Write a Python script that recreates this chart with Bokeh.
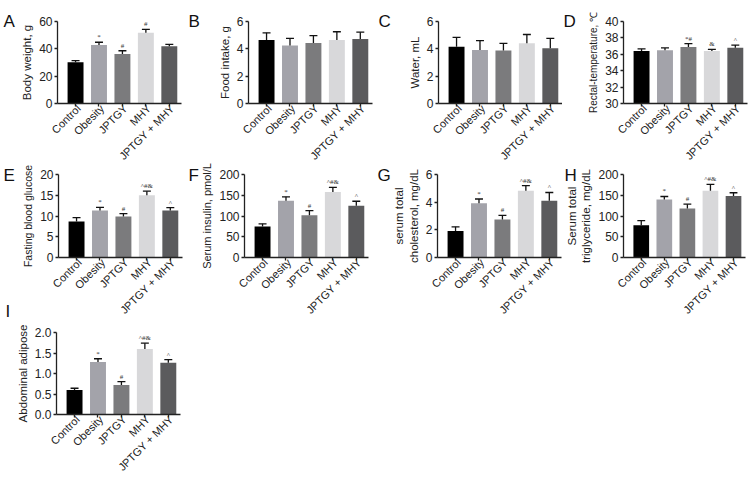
import math
from bokeh.plotting import figure
from bokeh.models import (Range1d, FixedTicker, LabelSet, ColumnDataSource,
                          NumeralTickFormatter, CustomJSTickFormatter)
from bokeh.core.properties import value
from bokeh.layouts import column, row
from bokeh.embed import file_html
from bokeh.resources import INLINE

# ---------------- data ----------------
groups = ["Control", "Obesity", "JPTGY", "MHY", "JPTGY + MHY"]
bar_colors = ["#000000", "#a3a3aa", "#7b7b7d", "#d8d8da", "#5b5b5d"]

body_weight = [30.1, 42.8, 36.2, 51.8, 41.8]
body_weight_err = [1.2, 2.0, 2.4, 2.4, 1.4]
body_weight_sig = ["", "*", "#", "#", ""]

food_intake = [4.65, 4.24, 4.43, 4.65, 4.72]
food_intake_err = [0.52, 0.53, 0.53, 0.6, 0.5]
food_intake_sig = ["", "", "", "", ""]

water = [4.16, 3.92, 3.87, 4.4, 4.04]
water_err = [0.68, 0.68, 0.53, 0.65, 0.73]
water_sig = ["", "", "", "", ""]

rectal_temp = [36.4, 36.5, 36.9, 36.4, 36.8]
rectal_temp_err = [0.25, 0.28, 0.4, 0.2, 0.33]
rectal_temp_sig = ["", "", "*#", "&", "^"]

glucose = [8.7, 11.3, 9.9, 15.0, 11.3]
glucose_err = [0.9, 0.8, 0.65, 0.97, 0.7]
glucose_sig = ["", "*", "#", "^#&", "^"]

insulin = [74.7, 136.5, 102.0, 158.0, 124.5]
insulin_err = [6.4, 9.6, 11.0, 11.0, 11.0]
insulin_sig = ["", "*", "#", "^#&", "^"]

cholesterol = [1.92, 3.93, 2.74, 4.83, 4.1]
cholesterol_err = [0.3, 0.3, 0.3, 0.36, 0.6]
cholesterol_sig = ["", "*", "#", "^#&", "^"]

triglyceride = [78.0, 140.0, 118.0, 161.0, 148.0]
triglyceride_err = [11.0, 7.0, 10.5, 15.0, 8.0]
triglyceride_sig = ["", "*", "#", "^#&", "^"]

adipose = [0.6, 1.28, 0.72, 1.6, 1.26]
adipose_err = [0.04, 0.08, 0.08, 0.14, 0.08]
adipose_sig = ["", "*", "#", "^#&", "^"]

FONT = "Liberation Sans"
TXT = "#222222"
X0, X1 = -0.77, 4.52


def add_letter(p, letter, x, y, dx, dy):
    p.text(x=[x], y=[y], text=[letter], x_offset=dx, y_offset=dy,
           text_font_size="17px", text_color="#111111", text_font=value(FONT),
           text_align="left", text_baseline="alphabetic", level="overlay")


def make_panel(letter, vals, errs, sigs, ylabel, y0, y1, yticks, W, H, bl, br, bt, bb,
               letter_dx, letter_dy=0, label_size="11.5px", fmt=None):
    p = figure(width=W, height=H, output_backend="svg", toolbar_location=None,
               x_range=Range1d(X0, X1), y_range=Range1d(y0, y1),
               min_border_left=bl, min_border_right=br, min_border_top=bt,
               min_border_bottom=bb)
    p.outline_line_color = None
    p.xgrid.grid_line_color = None
    p.ygrid.grid_line_color = None
    p.background_fill_color = "white"

    xs = list(range(len(groups)))
    src = ColumnDataSource(dict(
        x=xs, top=vals, err_top=[v + e for v, e in zip(vals, errs)],
        cl=[x - 0.17 for x in xs], cr=[x + 0.17 for x in xs],
        color=bar_colors, sig=sigs, name=groups, base=[y0] * len(xs)))

    p.vbar(x="x", top="top", bottom=y0, width=0.68, fill_color="color",
           line_color=None, source=src)
    p.segment(x0="x", y0="top", x1="x", y1="err_top", line_color="#111111",
              line_width=1.3, source=src)
    p.segment(x0="cl", y0="err_top", x1="cr", y1="err_top", line_color="#111111",
              line_width=1.3, source=src)

    # significance marks
    p.add_layout(LabelSet(x="x", y="err_top", text="sig", source=src, y_offset=1,
                          text_align="center", text_baseline="bottom",
                          text_font_size="7px", text_color="#333333",
                          text_font=FONT))
    # category labels (rotated), drawn at overlay level so they may leave the frame
    p.text(x="x", y="base", text="name", source=src, x_offset=3, y_offset=3,
           angle=math.pi / 4, text_align="right", text_baseline="middle",
           text_font_size="11px", text_color=TXT, text_font=value(FONT),
           level="overlay")
    if letter:
        add_letter(p, letter, X0, y1, letter_dx, letter_dy)

    xa = p.xaxis[0]
    ya = p.yaxis[0]
    xa.ticker = FixedTicker(ticks=xs)
    xa.formatter = CustomJSTickFormatter(code="return ''")
    ya.ticker = FixedTicker(ticks=yticks)
    if fmt:
        ya.formatter = NumeralTickFormatter(format=fmt)
    for ax in (xa, ya):
        ax.axis_line_width = 1.3
        ax.axis_line_color = TXT
        ax.major_tick_line_width = 1.3
        ax.major_tick_line_color = TXT
        ax.major_tick_out = 3
        ax.major_tick_in = 0
        ax.minor_tick_out = 0
        ax.minor_tick_in = 0
        ax.major_label_text_font = FONT
        ax.major_label_text_color = TXT
        ax.major_label_text_font_size = "12px"
    xa.major_label_standoff = 0
    ya.major_label_standoff = 2
    ya.axis_label = ylabel
    ya.axis_label_text_font = FONT
    ya.axis_label_text_font_style = "normal"
    ya.axis_label_text_font_size = label_size
    ya.axis_label_text_color = TXT
    ya.axis_label_standoff = 3
    return p


# row 1
R1 = dict(H=162, bt=21, bb=59)
pA = make_panel("A", body_weight, body_weight_err, body_weight_sig, "Body weight, g",
                0, 60, [0, 20, 40, 60], W=185, bl=57, br=4, letter_dx=-54, **R1)
pB = make_panel("B", food_intake, food_intake_err, food_intake_sig, "Food intake, g",
                0, 6, [0, 2, 4, 6], W=190, bl=63, br=3, letter_dx=-60, **R1)
pC = make_panel("C", water, water_err, water_sig, "Water, mL",
                0, 6, [0, 2, 4, 6], W=187, bl=63, br=0, letter_dx=-60, **R1)
pD = make_panel("D", rectal_temp, rectal_temp_err, rectal_temp_sig, "Rectal-temperature, \u2103",
                30, 40, [30, 32, 34, 36, 38, 40], W=186, bl=61, br=1, letter_dx=-60,
                label_size="10px", **R1)

# row 2
R2 = dict(H=158, bt=12, bb=63)
pE = make_panel("E", glucose, glucose_err, glucose_sig, "Fasting blood glucose",
                0, 20, [0, 5, 10, 15, 20], W=185, bl=58, br=3, letter_dx=-55,
                letter_dy=1, label_size="10.5px", **R2)
pF = make_panel("F", insulin, insulin_err, insulin_sig, "Serum insulin, pmol/L",
                0, 200, [0, 50, 100, 150, 200], W=190, bl=59, br=7, letter_dx=-56,
                letter_dy=1, label_size="11px", **R2)
pG = make_panel("G", cholesterol, cholesterol_err, cholesterol_sig,
                "serum total\ncholesterol, mg/dL",
                0, 6, [0, 2, 4, 6], W=188, bl=62, br=2, letter_dx=-60, letter_dy=1, **R2)
pH = make_panel("H", triglyceride, triglyceride_err, triglyceride_sig,
                "Serum total\ntriglyceride, mg/dL",
                0, 200, [0, 50, 100, 150, 200], W=185, bl=58, br=3, letter_dx=-59,
                letter_dy=1, **R2)

# row 3
pI = make_panel(None, adipose, adipose_err, adipose_sig, "Abdominal adipose",
                0, 2.0, [0, 0.5, 1.0, 1.5, 2.0], W=185, bl=56, br=5, letter_dx=-51,
                H=153, bt=12, bb=59, fmt="0.0")
# letter of panel I sits just above its figure, in the left margin of the row above
add_letter(pE, "I", X0, 0, -53, 54)

layout = column(row(pA, pB, pC, pD), row(pE, pF, pG, pH), row(pI))

with open("out.html", "w") as f:
    f.write(file_html(layout, INLINE))
